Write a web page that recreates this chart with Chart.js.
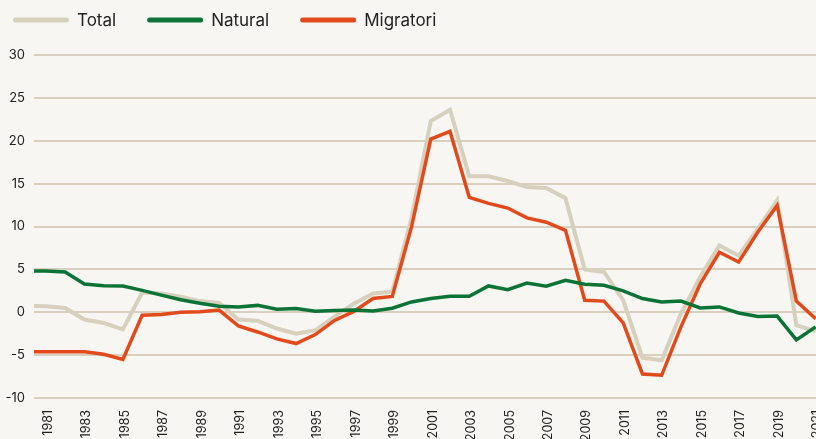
<!DOCTYPE html>
<html>
<head>
<meta charset="utf-8">
<script src="https://cdn.jsdelivr.net/npm/chart.js@4.4.1/dist/chart.umd.min.js"></script>
<style>
  html, body { margin: 0; padding: 0; background: #f7f6f2; overflow: hidden; }
  #wrap { width: 816px; height: 439px; position: relative; }
</style>
</head>
<body>
<div id="wrap"><canvas id="chart"></canvas></div>
<script>
const years = [1980, 1981, 1982, 1983, 1984, 1985, 1986, 1987, 1988, 1989,
  1990, 1991, 1992, 1993, 1994, 1995, 1996, 1997, 1998, 1999,
  2000, 2001, 2002, 2003, 2004, 2005, 2006, 2007, 2008, 2009,
  2010, 2011, 2012, 2013, 2014, 2015, 2016, 2017, 2018, 2019,
  2020, 2021];

const total = [0.75, 0.7, 0.5, -0.85, -1.25, -2.0, 2.3, 2.2, 1.8, 1.3,
  1.1, -0.85, -1.0, -1.9, -2.5, -2.1, -0.5, 1.0, 2.2, 2.4,
  11.0, 22.3, 23.6, 15.85, 15.85, 15.3, 14.6, 14.5, 13.3, 5.0,
  4.7, 1.4, -5.3, -5.6, -0.2, 4.1, 7.8, 6.6, 9.75, 13.05,
  -1.5, -2.2];

const natural = [4.8, 4.8, 4.7, 3.3, 3.1, 3.05, 2.55, 2.0, 1.45, 1.05,
  0.7, 0.6, 0.8, 0.35, 0.43, 0.12, 0.2, 0.27, 0.16, 0.47,
  1.2, 1.6, 1.86, 1.86, 3.07, 2.64, 3.4, 3.03, 3.73, 3.26,
  3.15, 2.5, 1.6, 1.2, 1.3, 0.5, 0.62, -0.08, -0.5, -0.45,
  -3.22, -1.7];

const migratori = [-4.6, -4.6, -4.6, -4.6, -4.9, -5.5, -0.35, -0.25, 0.0, 0.05,
  0.25, -1.6, -2.3, -3.1, -3.65, -2.6, -0.95, 0.1, 1.6, 1.85,
  9.95, 20.2, 21.1, 13.4, 12.7, 12.15, 11.0, 10.5, 9.55, 1.4,
  1.3, -1.25, -7.2, -7.35, -1.7, 3.3, 7.0, 5.85, 9.35, 12.45,
  1.3, -0.75];

const xTicks = [1981, 1983, 1985, 1987, 1989, 1991, 1993, 1995, 1997, 1999,
  2001, 2003, 2005, 2007, 2009, 2011, 2013, 2015, 2017, 2019, 2021];

const seriesNames = ["Total", "Natural", "Migratori"];
const seriesColors = ["#d6d0bd", "#0b7335", "#e24a1b"];

const toPoints = vals => vals.map((v, i) => ({ x: years[i], y: v }));

// legend drawn by hand: wide rounded swatches and free spacing
const lineLegend = {
  id: "lineLegend",
  afterDraw(chart) {
    const ctx = chart.ctx;
    ctx.save();
    ctx.font = "17px Inter";
    ctx.textBaseline = "middle";
    ctx.lineCap = "round";
    let x = 13;
    const y = 20;
    chart.data.datasets.forEach(ds => {
      ctx.strokeStyle = ds.borderColor;
      ctx.lineWidth = 5;
      ctx.beginPath();
      ctx.moveTo(x + 2.5, y);
      ctx.lineTo(x + 56 - 2.5, y);
      ctx.stroke();
      ctx.fillStyle = "#222";
      ctx.fillText(ds.label, x + 64, y + 1);
      x += 64 + ctx.measureText(ds.label).width + 31;
    });
    ctx.restore();
  }
};

new Chart(document.getElementById("chart"), {
  type: "line",
  data: {
    datasets: [
      { label: seriesNames[0], data: toPoints(total), borderColor: seriesColors[0], borderWidth: 4, order: 3 },
      { label: seriesNames[1], data: toPoints(natural), borderColor: seriesColors[1], borderWidth: 3.5, order: 1 },
      { label: seriesNames[2], data: toPoints(migratori), borderColor: seriesColors[2], borderWidth: 3.5, order: 2 }
    ]
  },
  options: {
    responsive: true,
    maintainAspectRatio: false,
    animation: false,
    layout: { padding: { top: 55, left: 0, right: 0, bottom: 0 } },
    elements: {
      point: { radius: 0, hoverRadius: 0 },
      line: { tension: 0, fill: false }
    },
    datasets: { line: { clip: 0 } },
    plugins: {
      legend: { display: false },
      tooltip: { enabled: false }
    },
    scales: {
      x: {
        type: "linear",
        min: 1980.38,
        max: 2021.02,
        grid: { display: false },
        border: { display: false },
        afterBuildTicks: scale => { scale.ticks = xTicks.map(v => ({ value: v })); },
        afterFit: scale => { scale.height = 41; scale.paddingLeft = 0; scale.paddingRight = 0; },
        ticks: {
          autoSkip: false,
          minRotation: 90,
          maxRotation: 90,
          padding: 4,
          labelOffset: 2,
          color: "#222",
          font: { family: "Inter", size: 12.5 },
          callback: v => String(v)
        }
      },
      y: {
        min: -10,
        max: 30,
        border: { display: false },
        grid: { color: "#d7d0bf", lineWidth: 2, drawTicks: false },
        afterFit: scale => { scale.width = 34; },
        ticks: {
          stepSize: 5,
          padding: 9,
          color: "#222",
          font: { family: "Inter", size: 13 }
        }
      }
    }
  },
  plugins: [lineLegend]
});
</script>
</body>
</html>
